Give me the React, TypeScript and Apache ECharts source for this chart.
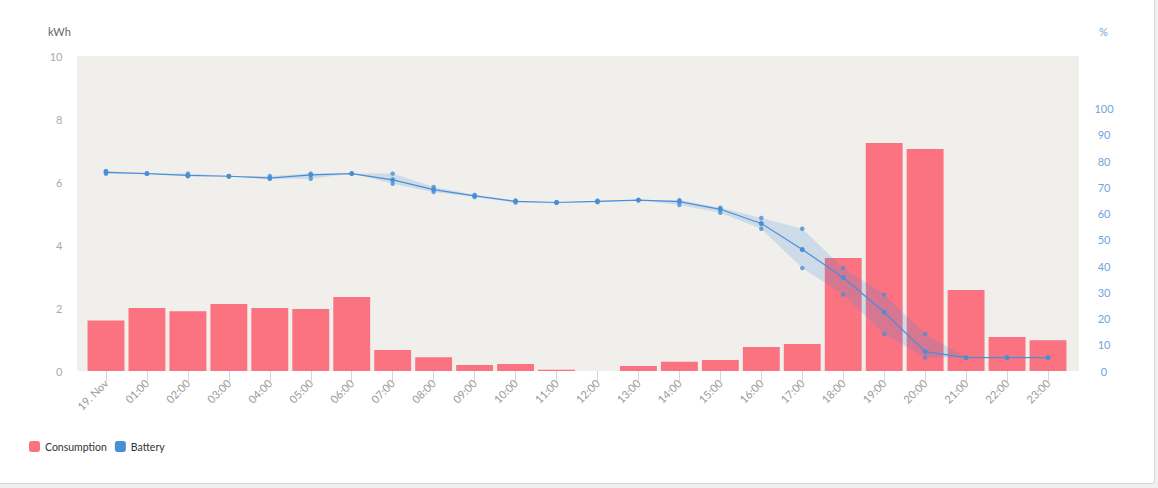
import React, { useEffect, useRef } from "react";
import * as echarts from "echarts";

const categories = ["19. Nov", "01:00", "02:00", "03:00", "04:00", "05:00", "06:00", "07:00", "08:00", "09:00", "10:00", "11:00", "12:00", "13:00", "14:00", "15:00", "16:00", "17:00", "18:00", "19:00", "20:00", "21:00", "22:00", "23:00"];

const consumption = [1.6, 2.0, 1.9, 2.13, 2.0, 1.97, 2.35, 0.67, 0.44, 0.19, 0.22, 0.04, 0, 0.16, 0.29, 0.35, 0.76, 0.86, 3.59, 7.24, 7.05, 2.57, 1.08, 0.98];

const batteryAvg = [75.7, 75.2, 74.5, 74.2, 73.5, 74.7, 75.2, 72.8, 69.1, 66.7, 64.6, 64.2, 64.6, 65.1, 64.5, 61.6, 56.2, 46.3, 35.6, 22.4, 7.4, 5.1, 5.1, 5.1];
const batteryMin = [75.1, 75.2, 74.2, 74.2, 73.2, 73.2, 75.2, 71.3, 68.2, 66.3, 64.2, 64.2, 64.3, 65.1, 63.2, 60.3, 54.2, 39.2, 29.1, 14.1, 5.1, 5.1, 5.1, 5.1];
const batteryMax = [76.2, 75.2, 75.2, 74.2, 74.3, 75.2, 75.2, 75.2, 70.1, 67.1, 65.0, 64.2, 64.9, 65.1, 65.1, 62.2, 58.3, 54.2, 39.2, 29.1, 14.1, 5.1, 5.1, 5.1];

const leftTicks = { min: 0, max: 10, interval: 2 };
const rightTicks = { min: 0, max: 120, interval: 10, shownMax: 100 };

const RED = "#fb7281";
const BLUE = "#4a8fd6";
const FONT = "Lato, 'Open Sans', sans-serif";

export default function App() {
  const ref = useRef<HTMLDivElement>(null);

  useEffect(() => {
    if (!ref.current) return;
    const chart = echarts.init(ref.current, undefined, { renderer: "svg" });
    const bandDiff = batteryMax.map((v, i) => +(v - batteryMin[i]).toFixed(2));
    chart.setOption({
      animation: false,
      textStyle: { fontFamily: FONT },
      grid: { left: 85.5, right: 89.5, top: 56, bottom: 117, containLabel: false },
      graphic: [
        { type: "rect", z: -100, silent: true, shape: { x: 77, y: 56, width: 1002, height: 315 }, style: { fill: "#f0efec" } },
        { type: "text", left: 48, top: 26, style: { text: "kWh", fill: "#666", fontSize: 11, fontWeight: "normal", fontFamily: FONT } },
        { type: "text", left: 1099, top: 26, style: { text: "%", fill: "#6fa6dc", fontSize: 11, fontFamily: FONT } },
      ],
      legend: {
        left: 24,
        top: 436,
        itemWidth: 11,
        itemHeight: 11,
        itemGap: 8,
        icon: "roundRect",
        textStyle: { color: "#333", fontSize: 10.5, fontFamily: FONT },
        data: [
          { name: "Consumption", itemStyle: { color: RED } },
          { name: "Battery", itemStyle: { color: BLUE } },
        ],
      },
      xAxis: {
        type: "category",
        data: categories,
        boundaryGap: true,
        axisLine: { show: false },
        axisTick: { show: true, alignWithLabel: true, length: 10, lineStyle: { color: "#ccd6eb" } },
        axisLabel: { rotate: 45, color: "#999", fontSize: 11, margin: 10, interval: 0, fontFamily: FONT },
        splitLine: { show: false },
      },
      yAxis: [
        {
          type: "value",
          min: leftTicks.min,
          max: leftTicks.max,
          interval: leftTicks.interval,
          axisLine: { show: false },
          axisTick: { show: false },
          splitLine: { show: false },
          axisLabel: { color: "#aaa", fontSize: 11, margin: 23, fontFamily: FONT },
        },
        {
          type: "value",
          min: rightTicks.min,
          max: rightTicks.max,
          interval: rightTicks.interval,
          position: "right",
          axisLine: { show: false },
          axisTick: { show: false },
          splitLine: { show: false },
          axisLabel: {
            color: "#6fa6dc",
            fontSize: 11,
            align: "center",
            margin: 35.5,
            fontFamily: FONT,
            formatter: (v: number) => (v > rightTicks.shownMax ? "" : String(v)),
          },
        },
      ],
      series: [
        {
          name: "Consumption",
          type: "bar",
          data: consumption,
          barCategoryGap: "10%",
          itemStyle: { color: RED },
          z: 2,
        },
        {
          name: "bandLow",
          type: "line",
          yAxisIndex: 1,
          data: batteryMin,
          stack: "band",
          symbol: "none",
          lineStyle: { opacity: 0 },
          z: 3,
          silent: true,
        },
        {
          name: "bandHigh",
          type: "line",
          yAxisIndex: 1,
          data: bandDiff,
          stack: "band",
          symbol: "none",
          lineStyle: { opacity: 0 },
          areaStyle: { color: "rgba(74,143,214,0.3)" },
          z: 3,
          silent: true,
        },
        {
          name: "bandMinPts",
          type: "scatter",
          yAxisIndex: 1,
          data: batteryMin,
          symbolSize: 4.5,
          itemStyle: { color: BLUE },
          z: 4,
        },
        {
          name: "bandMaxPts",
          type: "scatter",
          yAxisIndex: 1,
          data: batteryMax,
          symbolSize: 4.5,
          itemStyle: { color: BLUE },
          z: 4,
        },
        {
          name: "Battery",
          type: "line",
          yAxisIndex: 1,
          data: batteryAvg,
          symbol: "circle",
          symbolSize: 5,
          showAllSymbol: true,
          itemStyle: { color: BLUE },
          lineStyle: { color: BLUE, width: 1.2 },
          z: 5,
        },
      ],
    });
    return () => chart.dispose();
  }, []);

  return (
    <div style={{ position: "fixed", left: 0, top: 0, width: 1158, height: 488, background: "#efefef" }}>
      <div
        style={{
          position: "absolute",
          left: 0,
          top: 0,
          width: 1155,
          height: 484,
          background: "#fff",
          borderRight: "1px solid #d9d9d9",
          borderBottom: "1px solid #d9d9d9",
          borderBottomRightRadius: 3,
          boxSizing: "border-box",
        }}
      />
      <div ref={ref} style={{ position: "absolute", left: 0, top: 0, width: 1158, height: 488 }} />
    </div>
  );
}
